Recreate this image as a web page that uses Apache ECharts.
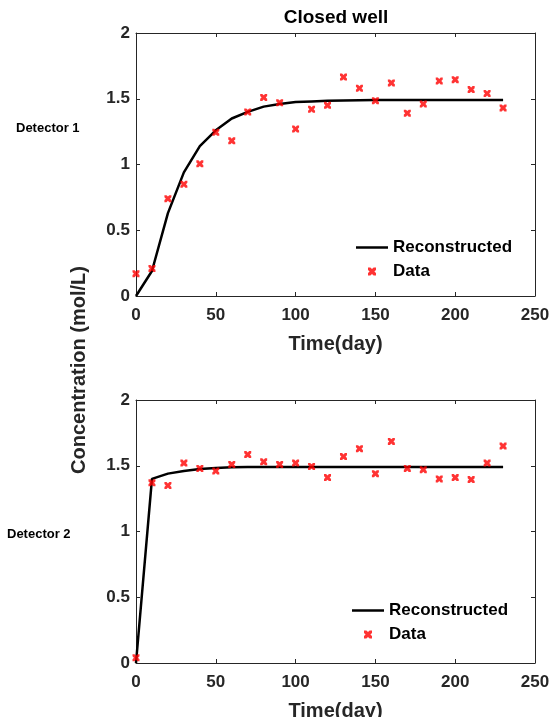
<!DOCTYPE html>
<html>
<head>
<meta charset="utf-8">
<script src="https://cdn.jsdelivr.net/npm/echarts@6/dist/echarts.min.js"></script>
<style>
  html, body { margin: 0; padding: 0; background: #fff; }
  #chart { width: 551px; height: 717px; }
</style>
</head>
<body>
<div id="chart"></div>
<script>
// sampling days shared by both detectors
const days = [0, 10, 20, 30, 40, 50, 60, 70, 80, 90, 100, 110, 120, 130, 140, 150, 160, 170, 180, 190, 200, 210, 220, 230];

// Detector 1
const recon1 = [0, 0.19, 0.63, 0.94, 1.14, 1.26, 1.35, 1.40, 1.44, 1.46, 1.475, 1.48, 1.485, 1.487, 1.489, 1.49, 1.49, 1.49, 1.49, 1.49, 1.49, 1.49, 1.49, 1.49];
const data1 = [0.17, 0.21, 0.74, 0.85, 1.005, 1.245, 1.18, 1.40, 1.51, 1.47, 1.27, 1.42, 1.45, 1.665, 1.58, 1.485, 1.62, 1.39, 1.46, 1.635, 1.645, 1.57, 1.54, 1.43];

// Detector 2
const recon2 = [0, 1.40, 1.44, 1.46, 1.475, 1.483, 1.488, 1.49, 1.49, 1.49, 1.49, 1.49, 1.49, 1.49, 1.49, 1.49, 1.49, 1.49, 1.49, 1.49, 1.49, 1.49, 1.49, 1.49];
const data2 = [0.04, 1.37, 1.35, 1.52, 1.48, 1.46, 1.51, 1.585, 1.53, 1.51, 1.52, 1.495, 1.41, 1.57, 1.63, 1.44, 1.685, 1.48, 1.47, 1.40, 1.41, 1.395, 1.52, 1.65];

const axisColor = "#262626";
const font = "Liberation Sans, Arial, sans-serif";
const crossMark = "path://M0,0 L3,0 L5,2 L7,0 L10,0 L10,3 L8,5 L10,7 L10,10 L7,10 L5,8 L3,10 L0,10 L0,7 L2,5 L0,3 Z";
const lineIcon = "path://M0,0 L32,0 L32,2.5 L0,2.5 Z";

const pairs = (ys) => days.map((d, i) => [d, ys[i]]);

// outerBoundsMode off so v6 does not shrink the grids to fit the axis names
const grids = [
  { left: 136, right: 16, top: 33, height: 263, outerBoundsMode: "none", containLabel: false },
  { left: 136, right: 16, top: 400, height: 263, outerBoundsMode: "none", containLabel: false },
];

// bottom / left axes carry the labels, top / right ones only close the box
function xAxisFor(gridIndex, position) {
  const main = position === "bottom";
  return {
    type: "value", gridIndex, position, min: 0, max: 250, interval: 50,
    name: main ? "Time(day)" : "", nameLocation: "middle", nameGap: 38,
    nameTextStyle: { fontSize: 20, fontWeight: "bold", color: axisColor },
    axisLine: { show: true, onZero: false, lineStyle: { color: axisColor } },
    axisTick: { show: true, inside: true, length: 4, lineStyle: { color: axisColor } },
    axisLabel: { show: main, fontSize: 17, fontWeight: "bold", color: axisColor, margin: 11 },
    splitLine: { show: false },
  };
}
function yAxisFor(gridIndex, position) {
  const main = position === "left";
  return {
    type: "value", gridIndex, position, min: 0, max: 2, interval: 0.5,
    axisLine: { show: true, onZero: false, lineStyle: { color: axisColor } },
    axisTick: { show: true, inside: true, length: 4, lineStyle: { color: axisColor } },
    axisLabel: { show: main, fontSize: 17, fontWeight: "bold", color: axisColor, margin: 6 },
    splitLine: { show: false },
  };
}

function legend(left, top, suffix) {
  return {
    orient: "vertical", left, top, padding: 0,
    itemWidth: 32, itemHeight: 8, itemGap: 7,
    data: [{ name: "Reconstructed" + suffix, icon: lineIcon }, { name: "Data" + suffix }],
    formatter: (name) => name.trim(),
    textStyle: { fontSize: 17, fontWeight: "bold", color: "#000" },
  };
}

function lineSeries(name, xi, yi, ys) {
  return {
    name, type: "line", xAxisIndex: xi, yAxisIndex: yi,
    data: pairs(ys), symbol: "none", showSymbol: false,
    lineStyle: { color: "#000", width: 2.5 }, itemStyle: { color: "#000" }, z: 2,
  };
}
function dataSeries(name, xi, yi, ys) {
  return {
    name, type: "scatter", xAxisIndex: xi, yAxisIndex: yi,
    data: pairs(ys), symbol: crossMark, symbolSize: 7,
    itemStyle: { color: "#ff0000" }, z: 3,
  };
}

const chart = echarts.init(document.getElementById("chart"), null, { renderer: "canvas" });

const option = {
  backgroundColor: "#fff",
  animation: false,
  textStyle: { fontFamily: font },
  title: {
    text: "Closed well", left: 336, top: 8, textAlign: "center", padding: 0,
    textStyle: { fontSize: 19, fontWeight: "bold", color: "#000" },
  },
  grid: grids,
  xAxis: [xAxisFor(0, "bottom"), xAxisFor(0, "top"), xAxisFor(1, "bottom"), xAxisFor(1, "top")],
  yAxis: [yAxisFor(0, "left"), yAxisFor(0, "right"), yAxisFor(1, "left"), yAxisFor(1, "right")],
  legend: [legend(356, 239, ""), legend(352, 602, " ")],
  graphic: [
    { type: "text", left: 16, top: 122, style: { text: "Detector 1", font: "bold 13px " + font, fill: "#000" } },
    { type: "text", left: 7, top: 528, style: { text: "Detector 2", font: "bold 13px " + font, fill: "#000" } },
    {
      type: "text", x: 79, y: 370, rotation: Math.PI / 2,
      style: { text: "Concentration (mol/L)", font: "bold 20px " + font, fill: axisColor, align: "center", verticalAlign: "middle" },
    },
  ],
  series: [
    lineSeries("Reconstructed", 0, 0, recon1),
    dataSeries("Data", 1, 1, data1),
    lineSeries("Reconstructed ", 2, 2, recon2),
    dataSeries("Data ", 3, 3, data2),
  ],
};

chart.setOption(option);
</script>
</body>
</html>
